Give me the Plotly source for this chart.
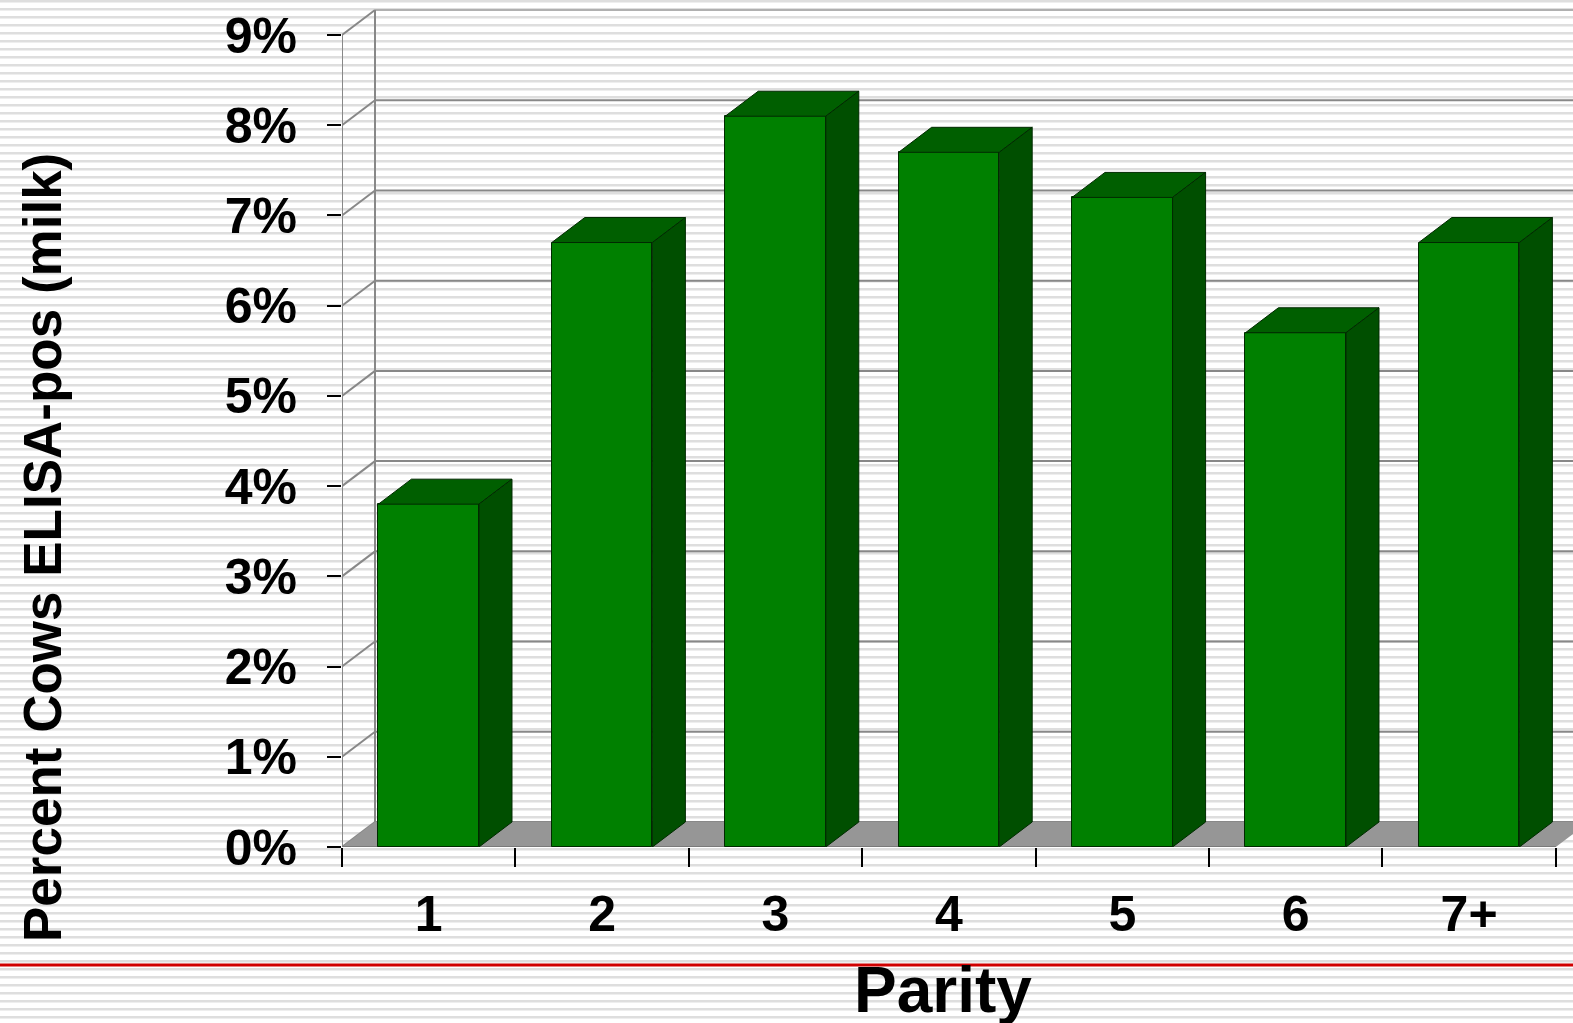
import plotly.graph_objects as go

# ---------------- data ----------------
categories = ["1", "2", "3", "4", "5", "6", "7+"]
percent_pos = [3.8, 6.7, 8.1, 7.7, 7.2, 5.7, 6.7]
y_tick_values = [0, 1, 2, 3, 4, 5, 6, 7, 8, 9]
y_tick_labels = ["0%", "1%", "2%", "3%", "4%", "5%", "6%", "7%", "8%", "9%"]
x_title = "Parity"
y_title = "Percent Cows ELISA-pos (milk)"

# ---------------- geometry / style ----------------
W, H = 1573, 1023
ML, MR, MT, MB = 342, 0, 5, 176
PW, PH = W - ML - MR, H - MT - MB
PX_PER_CAT = 173.4
PX_PER_PCT = 90.22
X0 = -0.5
X1 = X0 + PW / PX_PER_CAT
Y1 = PH / PX_PER_PCT
DX = 33 / PX_PER_CAT     # depth offset in x units
DY = 25 / PX_PER_PCT     # depth offset in y units
BW = 0.58                # bar width in category units

FRONT = "#008000"
TOP = "#005f00"
SIDE = "#004f00"
EDGE = "#002a00"
GRID = "#888888"
FONT = "Liberation Sans, Arial, sans-serif"


def px2x(px):
    return (px - ML) / PW


def py2y(py):
    return (MT + PH - py) / PH


xs = list(range(len(categories)))
fig = go.Figure()

# front faces
fig.add_trace(go.Bar(
    x=xs, y=percent_pos, width=BW,
    marker=dict(color=FRONT, line=dict(color=EDGE, width=1)),
    hoverinfo="skip", showlegend=False,
))

# top and side faces (3D effect)
for i, v in zip(xs, percent_pos):
    l, r = i - BW / 2, i + BW / 2
    fig.add_trace(go.Scatter(
        x=[l, r, r + DX, l + DX, l], y=[v, v, v + DY, v + DY, v],
        mode="lines", fill="toself", fillcolor=TOP,
        line=dict(color=EDGE, width=1), hoverinfo="skip", showlegend=False,
    ))
    fig.add_trace(go.Scatter(
        x=[r, r + DX, r + DX, r, r], y=[0, DY, v + DY, v, 0],
        mode="lines", fill="toself", fillcolor=SIDE,
        line=dict(color=EDGE, width=1), hoverinfo="skip", showlegend=False,
    ))

shapes = []
# striped background
for k in range(0, H // 8 + 1):
    shapes.append(dict(
        type="rect", xref="paper", yref="paper", layer="below",
        x0=px2x(0), x1=px2x(W), y0=py2y(8 * k), y1=py2y(8 * k + 2.5),
        fillcolor="#dedede", line=dict(width=0),
    ))
# back wall gridlines + diagonals
for t in y_tick_values:
    shapes.append(dict(type="line", xref="x", yref="y", layer="below",
                       x0=X0 + DX, x1=X1 + 1, y0=t + DY, y1=t + DY,
                       line=dict(color="#b0b0b0" if t == y_tick_values[-1] else GRID, width=2)))
    shapes.append(dict(type="line", xref="x", yref="y", layer="below",
                       x0=X0, x1=X0 + DX, y0=t, y1=t + DY,
                       line=dict(color=GRID, width=2)))
# back wall vertical and front axis line
shapes.append(dict(type="line", xref="x", yref="y", layer="below",
                   x0=X0 + DX, x1=X0 + DX, y0=DY, y1=y_tick_values[-1] + DY,
                   line=dict(color=GRID, width=2)))
shapes.append(dict(type="line", xref="x", yref="y", layer="below",
                   x0=X0, x1=X0, y0=0, y1=y_tick_values[-1],
                   line=dict(color=GRID, width=2)))
# floor
n = len(categories)
shapes.append(dict(
    type="path", xref="x", yref="y", layer="below",
    path=f"M {X0},0 L {X0 + n},0 L {X0 + n + DX},{DY} L {X0 + DX},{DY} Z",
    fillcolor="#969696", line=dict(width=0),
))
shapes.append(dict(type="line", xref="x", yref="y", layer="below",
                   x0=X0, x1=X0 + n, y0=0, y1=0,
                   line=dict(color="#707070", width=1.5)))
# red rule
shapes.append(dict(type="line", xref="paper", yref="paper",
                   x0=px2x(0), x1=px2x(W), y0=py2y(965), y1=py2y(965),
                   line=dict(color="#d00000", width=3)))

annotations = [
    dict(text=y_title, textangle=-90, xref="paper", yref="paper",
         x=px2x(42), y=py2y(548), xanchor="center", yanchor="middle",
         showarrow=False, font=dict(family=FONT, size=53, color="black", weight="bold")),
    dict(text=x_title, xref="paper", yref="paper",
         x=px2x(943), y=py2y(990), xanchor="center", yanchor="middle",
         showarrow=False, font=dict(family=FONT, size=64, color="black", weight="bold")),
]

fig.update_layout(
    width=W, height=H,
    margin=dict(l=ML, r=MR, t=MT, b=MB),
    paper_bgcolor="white", plot_bgcolor="rgba(0,0,0,0)",
    shapes=shapes, annotations=annotations,
    showlegend=False, bargap=0,
    xaxis=dict(range=[X0, X1], tickvals=xs, ticktext=categories,
               ticks="", showgrid=False, zeroline=False, showline=False,
               ticklabelstandoff=33,
               tickfont=dict(family=FONT, size=50, color="black", weight="bold")),
    xaxis2=dict(range=[X0, X1], overlaying="x", anchor="y", side="bottom",
                tickvals=[X0 + k for k in range(n + 1)], ticks="outside",
                ticklen=19, tickwidth=2, tickcolor="black",
                showticklabels=False, showgrid=False, zeroline=False, showline=False),
    yaxis=dict(range=[0, Y1], tickvals=y_tick_values, ticktext=y_tick_labels,
               ticks="outside", ticklen=14, tickwidth=2, tickcolor="black",
               ticklabelstandoff=20,
               showgrid=False, zeroline=False, showline=False,
               tickfont=dict(family=FONT, size=50, color="black", weight="bold")),
)
# dummy trace to activate xaxis2
fig.add_trace(go.Scatter(x=[X0], y=[0], xaxis="x2", mode="markers",
                         marker=dict(opacity=0), hoverinfo="skip", showlegend=False))

fig.write_html("out.html", config={"displayModeBar": False},
               post_script="document.body.style.margin='0';document.body.style.overflow='hidden';")
